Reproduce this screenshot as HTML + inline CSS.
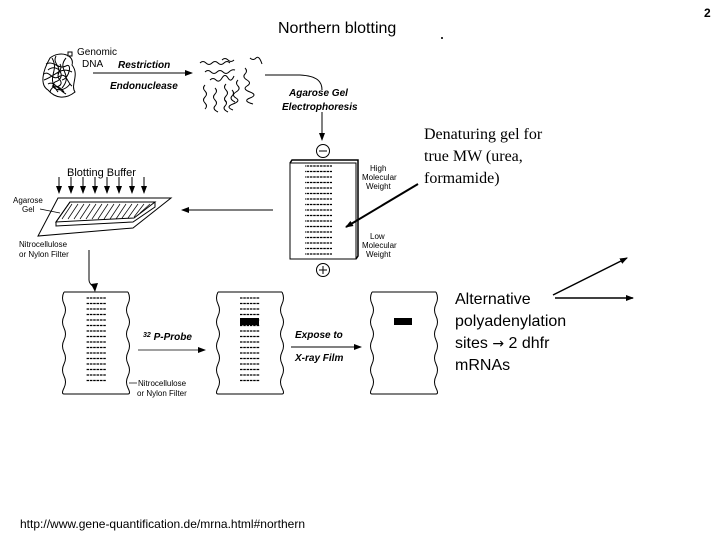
<!DOCTYPE html>
<html><head><meta charset="utf-8"><style>
html,body{margin:0;padding:0;background:#fff;width:720px;height:540px;overflow:hidden}
svg{display:block}
.a{font-family:"Liberation Sans",sans-serif}
.bi{font-family:"Liberation Sans",sans-serif;font-weight:bold;font-style:italic;font-size:10px}
.s{font-family:"Liberation Sans",sans-serif;font-size:8px}
</style></head><body>
<svg width="720" height="540" viewBox="0 0 720 540" xmlns="http://www.w3.org/2000/svg">
<defs>
<marker id="ah" markerWidth="8" markerHeight="8" refX="7" refY="4" orient="auto" markerUnits="userSpaceOnUse"><path d="M0,1 L8,4 L0,7z" fill="#000"/></marker>
<pattern id="bands" x="0" y="0" width="20" height="5.5" patternUnits="userSpaceOnUse"><line x1="0" y1="1" x2="20" y2="1" stroke="#000" stroke-width="1.2" stroke-dasharray="2.5,0.8"/></pattern>
</defs>
<text x="278" y="33" class="a" font-size="16">Northern blotting</text>
<text x="704" y="17" class="a" font-size="12" font-weight="bold">2</text>
<rect x="441" y="37" width="2" height="2" fill="#333"/>

<g stroke="#000" fill="none" stroke-width="1">
<path d="M50,58 C60,50 75,55 72,65 C80,75 70,85 75,92 C65,100 55,98 48,90 C40,85 42,72 50,58z"/>
<path d="M48,70 C58,62 68,78 55,82 C48,88 62,95 70,84 M52,58 C60,72 45,76 58,92 M66,58 C56,70 74,74 62,88 M44,80 C56,76 60,66 72,72 M46,64 C54,60 58,70 66,66 C72,62 70,78 62,80 M50,92 C52,84 60,86 64,92 M44,74 C50,70 52,82 60,76 C66,72 68,84 72,86 M56,56 C52,64 62,66 58,74 M48,84 C54,80 58,90 66,94 M60,64 C64,70 54,74 60,80 C64,86 56,88 52,86"/>
<rect x="68" y="52" width="4" height="4"/>
</g>
<text x="77" y="55" class="a" font-size="10">Genomic</text>
<text x="82" y="67" class="a" font-size="10">DNA</text>
<line x1="93" y1="73" x2="192" y2="73" stroke="#000" marker-end="url(#ah)"/>
<text x="118" y="68" class="bi">Restriction</text>
<text x="110" y="89" class="bi">Endonuclease</text>
<g stroke="#000" fill="none" stroke-width="1">
<path d="M200,63 q3,-3 6,0 t6,0 t6,0 t6,0 t6,0"/>
<path d="M205,72 q3,-3 6,0 t6,0 t6,0 t6,0 t6,-2"/>
<path d="M210,80 q3,-3 6,0 t6,-2 t6,0 t6,-2"/>
<path d="M205,85 q-3,3 0,6 t0,6 t0,6 t0,6"/>
<path d="M215,88 q3,3 0,6 t0,6 t0,6 t3,6"/>
<path d="M225,100 q3,3 0,6 t3,6"/>
<path d="M238,80 q-3,3 0,6 t-2,6 t0,6 t-3,6 t0,6"/>
<path d="M245,68 q3,3 0,6 t2,6 t0,6 t3,6 t0,6 t3,6"/>
<path d="M250,58 q3,3 6,0 t6,6"/>
<path d="M232,90 q3,3 0,6 t3,6"/>
<path d="M222,60 q3,-3 6,0 t6,0"/>
<path d="M226,84 q-3,3 0,6 t0,6 t0,6"/>
</g>
<path d="M265,75 L300,75 C318,76 322,82 322,90" stroke="#000" fill="none"/>
<line x1="322" y1="112" x2="322" y2="140" stroke="#000" marker-end="url(#ah)"/>
<text x="289" y="96" class="bi">Agarose Gel</text>
<text x="282" y="110" class="bi">Electrophoresis</text>
<circle cx="323" cy="151" r="6.5" fill="none" stroke="#000"/><line x1="319" y1="151" x2="327" y2="151" stroke="#000"/>
<rect x="290" y="163" width="66" height="96" fill="#fff" stroke="#000"/>
<path d="M290,163 L292,160 L358,160 L358,256 L356,259" fill="none" stroke="#000" stroke-width="1.5"/>
<rect x="305" y="163" width="27" height="92" fill="url(#bands)"/>
<text x="370" y="171" class="s">High</text>
<text x="362" y="180" class="s">Molecular</text>
<text x="366" y="189" class="s">Weight</text>
<text x="370" y="239" class="s">Low</text>
<text x="362" y="248" class="s">Molecular</text>
<text x="366" y="257" class="s">Weight</text>
<circle cx="323" cy="270" r="6.5" fill="none" stroke="#000"/><line x1="319" y1="270" x2="327" y2="270" stroke="#000"/><line x1="323" y1="266" x2="323" y2="274" stroke="#000"/>
<line x1="273" y1="210" x2="182" y2="210" stroke="#000" marker-end="url(#ah)"/>
<text x="67" y="176" class="a" font-size="11">Blotting Buffer</text>
<g stroke="#000">
<line x1="59" y1="177" x2="59" y2="193" marker-end="url(#ah)"/>
<line x1="71" y1="177" x2="71" y2="193" marker-end="url(#ah)"/>
<line x1="83" y1="177" x2="83" y2="193" marker-end="url(#ah)"/>
<line x1="95" y1="177" x2="95" y2="193" marker-end="url(#ah)"/>
<line x1="107" y1="177" x2="107" y2="193" marker-end="url(#ah)"/>
<line x1="119" y1="177" x2="119" y2="193" marker-end="url(#ah)"/>
<line x1="132" y1="177" x2="132" y2="193" marker-end="url(#ah)"/>
<line x1="144" y1="177" x2="144" y2="193" marker-end="url(#ah)"/>
</g>
<path d="M58,198 L171,198 L133,228 L38,236 z" fill="#fff" stroke="#000"/>
<path d="M70,202 L155,202 L155,207 L133,222 L56,226 L56,222 z" fill="#fff" stroke="#000"/>
<path d="M70,202 L155,202 L134,218 L56,222 z" fill="none" stroke="#000"/>
<g stroke="#000" stroke-width="0.7">
<line x1="72" y1="204" x2="62" y2="219"/><line x1="78" y1="204" x2="68" y2="219"/><line x1="84" y1="204" x2="74" y2="219"/><line x1="90" y1="204" x2="80" y2="219"/><line x1="96" y1="204" x2="86" y2="219"/><line x1="102" y1="204" x2="92" y2="219"/><line x1="108" y1="204" x2="98" y2="219"/><line x1="114" y1="204" x2="104" y2="219"/><line x1="120" y1="204" x2="110" y2="219"/><line x1="126" y1="204" x2="116" y2="219"/><line x1="132" y1="204" x2="122" y2="218"/><line x1="138" y1="204" x2="128" y2="218"/><line x1="144" y1="204" x2="134" y2="217"/><line x1="150" y1="204" x2="140" y2="213"/>
</g>
<text x="13" y="203" class="s">Agarose</text>
<text x="22" y="212" class="s">Gel</text>
<line x1="40" y1="209" x2="60" y2="213" stroke="#000" stroke-width="0.7"/>
<text x="19" y="247" class="s">Nitrocellulose</text>
<text x="19" y="257" class="s">or Nylon Filter</text>
<path d="M89,250 L89,280 C89,284 93,286 95,288" fill="none" stroke="#000"/>
<path d="M91,284 L95,292 L98,283z" fill="#000"/>
<g stroke="#000" fill="none">
<path d="M64,292 L128,292 M64,394 L128,394 M64,292 q-3,6 0,12 t0,12 t0,12 t0,12 t0,12 t0,12 t0,12 t0,12 t0,6 M128,292 q3,6 0,12 t0,12 t0,12 t0,12 t0,12 t0,12 t0,12 t0,12 t0,6"/>
<path d="M218,292 L282,292 M218,394 L282,394 M218,292 q-3,6 0,12 t0,12 t0,12 t0,12 t0,12 t0,12 t0,12 t0,12 t0,6 M282,292 q3,6 0,12 t0,12 t0,12 t0,12 t0,12 t0,12 t0,12 t0,12 t0,6"/>
<path d="M372,292 L436,292 M372,394 L436,394 M372,292 q-3,6 0,12 t0,12 t0,12 t0,12 t0,12 t0,12 t0,12 t0,12 t0,6 M436,292 q3,6 0,12 t0,12 t0,12 t0,12 t0,12 t0,12 t0,12 t0,12 t0,6"/>
</g>
<rect x="86" y="297" width="20" height="88" fill="url(#bands)"/>
<rect x="240" y="297" width="20" height="88" fill="url(#bands)"/>
<rect x="240" y="318" width="19" height="7" fill="#000"/>
<rect x="394" y="318" width="18" height="7" fill="#000"/>
<text x="143" y="340" class="bi" font-size="11"><tspan font-size="7" baseline-shift="super">32</tspan> P-Probe</text>
<line x1="138" y1="350" x2="205" y2="350" stroke="#000" stroke-width="0.7" marker-end="url(#ah)"/>
<text x="295" y="338" class="bi">Expose to</text>
<line x1="291" y1="347" x2="361" y2="347" stroke="#000" marker-end="url(#ah)"/>
<text x="295" y="361" class="bi">X-ray Film</text>
<line x1="129" y1="383" x2="137" y2="383" stroke="#000" stroke-width="0.7"/>
<text x="138" y="386" class="s">Nitrocellulose</text>
<text x="137" y="396" class="s">or Nylon Filter</text>
<text x="424" y="139" font-family="Liberation Serif,serif" font-size="16">Denaturing gel for</text>
<text x="424" y="161" font-family="Liberation Serif,serif" font-size="16">true MW (urea,</text>
<text x="424" y="183" font-family="Liberation Serif,serif" font-size="16">formamide)</text>
<line x1="418" y1="184" x2="346" y2="227" stroke="#000" stroke-width="2" marker-end="url(#ah)"/>
<text x="455" y="304" class="a" font-size="16">Alternative</text>
<text x="455" y="326" class="a" font-size="16">polyadenylation</text>
<text x="455" y="348" class="a" font-size="16">sites <tspan font-family="DejaVu Sans,sans-serif" font-size="14">→</tspan> 2 dhfr</text>
<text x="455" y="370" class="a" font-size="16">mRNAs</text>
<line x1="553" y1="295" x2="627" y2="258" stroke="#000" stroke-width="1.5" marker-end="url(#ah)"/>
<line x1="555" y1="298" x2="633" y2="298" stroke="#000" stroke-width="1.5" marker-end="url(#ah)"/>
<text x="20" y="528" class="a" font-size="12" textLength="285">http://www.gene-quantification.de/mrna.html#northern</text>
</svg>
</body></html>
